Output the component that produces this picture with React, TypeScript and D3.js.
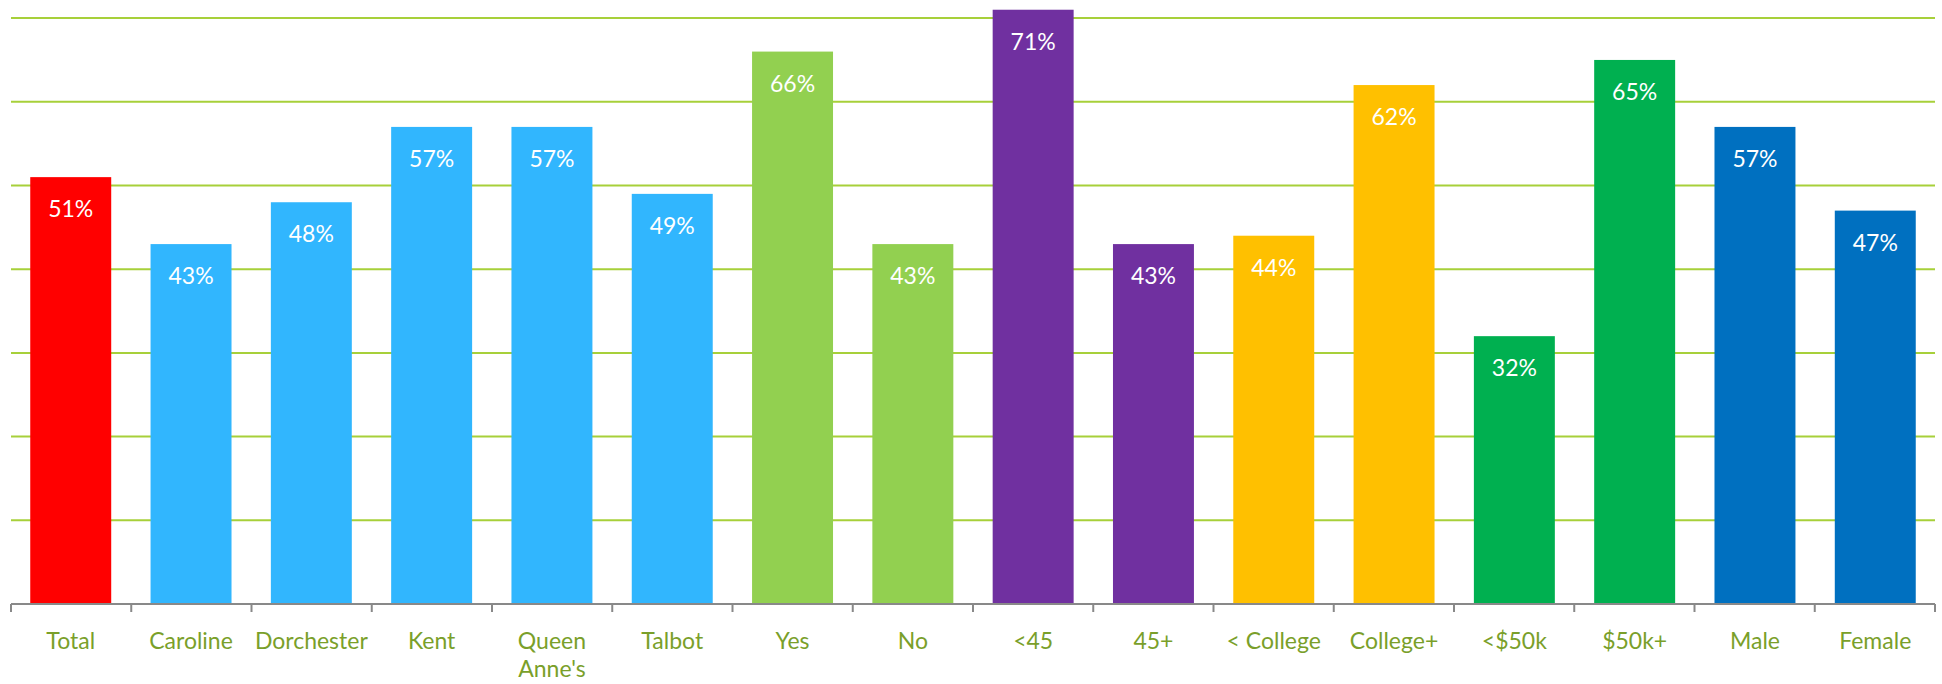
import React from "react";
import * as d3 from "d3";

const categories = ["Total", "Caroline", "Dorchester", "Kent", "Queen Anne's", "Talbot", "Yes", "No", "<45", "45+", "< College", "College+", "<$50k", "$50k+", "Male", "Female"];
const values = [51, 43, 48, 57, 57, 49, 66, 43, 71, 43, 44, 62, 32, 65, 57, 47];
const colors = ["#ff0000", "#31b6fe", "#31b6fe", "#31b6fe", "#31b6fe", "#31b6fe", "#92d050", "#92d050", "#7030a0", "#7030a0", "#ffc000", "#ffc000", "#00b050", "#00b050", "#0070c0", "#0070c0"];
const gridTicks = [10, 20, 30, 40, 50, 60, 70];

const W = 1942, H = 684;
const left = 11, right = 1935, axisY = 604;

export default function App() {
  const x = d3.scaleBand<string>().domain(categories).range([left, right]).paddingInner(0.327).paddingOuter(0.16);
  const band = (right - left) / categories.length;
  const y = d3.scaleLinear().domain([0, 10]).range([axisY, axisY - 83.7]);
  const font = "Lato, 'Open Sans', sans-serif";
  return (
    <svg width={W} height={H} style={{ position: "absolute", left: 0, top: 0, background: "#fff" }}>
      {gridTicks.map((t) => (
        <line key={t} x1={left} x2={right} y1={y(t)} y2={y(t)} stroke="#a7d03a" strokeWidth={2} />
      ))}
      {categories.map((c, i) => (
        <rect key={c} x={x(c)} y={y(values[i])} width={x.bandwidth()} height={axisY - y(values[i])} fill={colors[i]} />
      ))}
      {categories.map((c, i) => (
        <text key={"v" + c} x={(x(c) as number) + x.bandwidth() / 2} y={y(values[i]) + 40} textAnchor="middle" fill="#fff" fontFamily={font} fontSize={23}>
          {values[i]}%
        </text>
      ))}
      <line x1={left} x2={right} y1={axisY} y2={axisY} stroke="#898989" strokeWidth={2} />
      {d3.range(categories.length + 1).map((i) => (
        <line key={"t" + i} x1={left + i * band} x2={left + i * band} y1={axisY} y2={axisY + 8} stroke="#898989" strokeWidth={2} />
      ))}
      {categories.map((c, i) => {
        const lines = c === "Queen Anne's" ? ["Queen", "Anne's"] : [c];
        return (
          <text key={"c" + c} x={(x(c) as number) + x.bandwidth() / 2} y={649} textAnchor="middle" fill="#7a9f2a" fontFamily={font} fontSize={23}>
            {lines.map((l, j) => (
              <tspan key={j} x={(x(c) as number) + x.bandwidth() / 2} dy={j === 0 ? 0 : 28}>{l}</tspan>
            ))}
          </text>
        );
      })}
    </svg>
  );
}
